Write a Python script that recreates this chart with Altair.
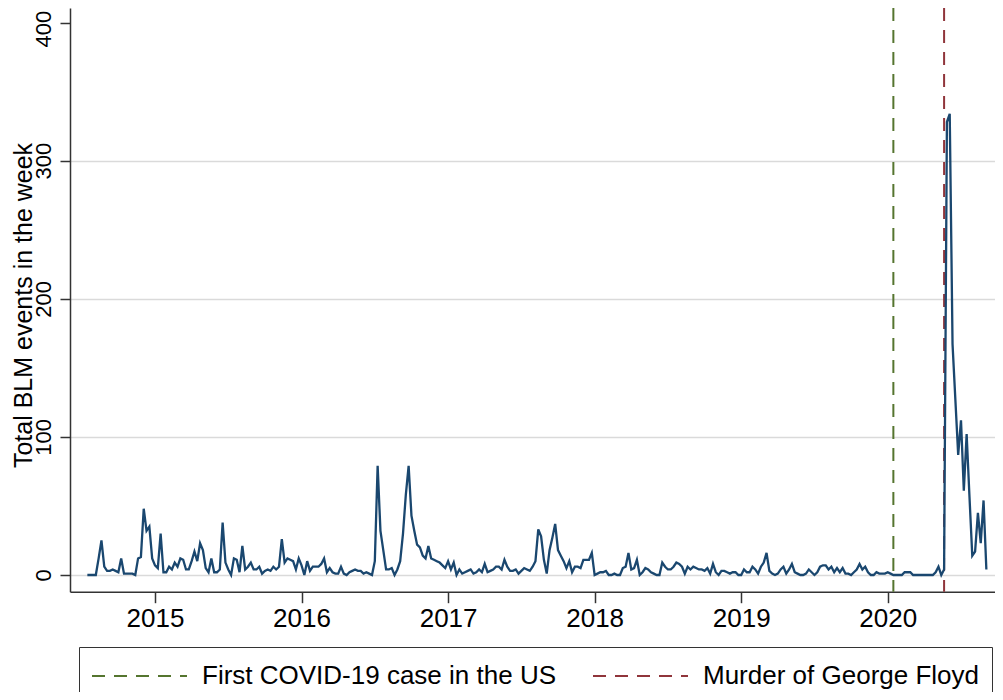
import altair as alt
import pandas as pd

# Weekly BLM event counts (Stata weekly dates: 52 weeks per year)
V2014 = [0, 0, 0, 0, 12, 25, 6, 3, 3, 4, 3, 2, 12, 1, 1, 1, 1, 0, 12, 13, 48, 32, 35, 12]  # weeks 29-52
V2015 = [7, 5, 30, 2, 2, 6, 4, 9, 6, 12, 11, 4, 4, 10, 17, 10, 23, 18, 5, 2,
         12, 2, 2, 4, 38, 9, 4, 0, 12, 11, 2, 21, 4, 6, 9, 4, 4, 6, 1, 3,
         4, 3, 6, 4, 6, 26, 9, 12, 11, 10, 4, 12]
V2016 = [7, 0, 10, 3, 6, 6, 6, 8, 12, 2, 5, 2, 1, 1, 6, 1, 0, 2, 3, 4,
         3, 3, 1, 2, 1, 0, 10, 79, 32, 18, 4, 4, 5, 0, 4, 10, 30, 58, 79, 43,
         32, 22, 20, 14, 12, 21, 12, 11, 10, 9, 7, 5]
V2017 = [10, 4, 9, 0, 4, 1, 2, 3, 4, 1, 2, 4, 2, 8, 2, 3, 4, 6, 6, 4,
         11, 6, 3, 3, 4, 1, 3, 5, 4, 3, 6, 10, 33, 28, 11, 1, 18, 27, 37, 18,
         14, 10, 5, 10, 2, 6, 6, 5, 11, 11, 11, 16]
V2018 = [0, 1, 2, 2, 3, 0, 0, 1, 0, 0, 5, 6, 16, 4, 5, 11, 0, 2, 5, 4,
         2, 1, 0, 0, 9, 6, 4, 4, 6, 9, 8, 6, 1, 6, 4, 6, 5, 4, 4, 3,
         5, 1, 8, 2, 0, 3, 3, 2, 1, 2, 2, 0]
V2019 = [0, 4, 2, 2, 6, 4, 1, 6, 9, 16, 3, 1, 0, 1, 4, 6, 1, 4, 8, 2,
         1, 0, 0, 1, 4, 2, 0, 2, 6, 7, 7, 4, 6, 2, 5, 2, 5, 1, 1, 0,
         2, 4, 8, 4, 6, 2, 0, 0, 2, 1, 1, 1]
V2020 = [2, 1, 0, 0, 0, 0, 2, 2, 2, 0, 0, 0, 0, 0, 0, 0, 0, 2, 6, 0,
         4, 328, 334, 167, 127, 87, 112, 61, 102, 57, 14, 17, 45, 23, 54, 4]  # weeks 1-36

SERIES = [(2014, 29, V2014), (2015, 1, V2015), (2016, 1, V2016), (2017, 1, V2017),
          (2018, 1, V2018), (2019, 1, V2019), (2020, 1, V2020)]

EVENTS = ["First COVID-19 case in the US", "Murder of George Floyd"]
EVENT_YEAR_WEEK = [(2020, 3), (2020, 21)]
EVENT_COLORS = ["#55752f", "#90353b"]

YEAR_TICKS = [2015, 2016, 2017, 2018, 2019, 2020]
Y_TICKS = [0, 100, 200, 300, 400]

rows = []
for year, start, vals in SERIES:
    for i, v in enumerate(vals):
        w = start + i
        rows.append({"t": year + (w - 1) / 52.0, "events": v})
df = pd.DataFrame(rows)

ev_df = pd.DataFrame({
    "event": EVENTS,
    "t": [y + (w - 1) / 52.0 for y, w in EVENT_YEAR_WEEK],
})

FONT = "Liberation Sans"
X_DOMAIN = [2014.42, 2020.732]
Y_DOMAIN = [-12.1, 410.6]

x_scale = alt.Scale(domain=X_DOMAIN, nice=False, zero=False)
x_axis = alt.Axis(
    values=YEAR_TICKS, format="d", title=None, grid=False,
    labelFont=FONT, labelFontSize=26, labelColor="black",
    labelBaseline="alphabetic", labelPadding=24, labelFlush=False,
    tickSize=11, tickColor="#333333", tickWidth=1.5,
    domainColor="#333333", domainWidth=1.5,
)
y_axis = alt.Axis(
    values=Y_TICKS, format="d",
    title="Total BLM events in the week",
    titleFont=FONT, titleFontSize=25, titleFontWeight="normal", titleColor="black",
    titleAngle=270, titleAlign="center", titleBaseline="alphabetic",
    titleX=-39, titleY=297,
    labelFont=FONT, labelFontSize=22, labelColor="black",
    labelAngle=270, labelAlign="center", labelBaseline="alphabetic",
    labelPadding=10, labelFlush=False,
    labelOffset={"condition": {"test": "datum.value >= 400", "value": 6}, "value": 0},
    tickSize=10, tickColor="#333333", tickWidth=1.5,
    domainColor="#333333", domainWidth=1.5,
    grid=True, gridWidth=1.5,
    gridColor={"condition": {"test": "datum.value >= 400", "value": "transparent"},
               "value": "#dadada"},
)

rules = alt.Chart(ev_df).mark_rule(strokeWidth=2, strokeDash=[13, 9]).encode(
    x=alt.X("t:Q", scale=x_scale, axis=x_axis),
    color=alt.Color(
        "event:N",
        scale=alt.Scale(domain=EVENTS, range=EVENT_COLORS),
        legend=alt.Legend(
            title=None, orient="none", legendX=9, legendY=639,
            direction="horizontal", columns=2,
            symbolType="stroke", symbolSize=9025, symbolStrokeWidth=2,
            symbolDash=[13, 9], clipHeight=34,
            labelFont=FONT, labelFontSize=26, labelColor="black",
            labelLimit=600, labelOffset=14, columnPadding=36,
            padding=12, strokeColor="#333333",
        ),
    ),
)

line = alt.Chart(df).mark_line(color="#1a476f", strokeWidth=2.3).encode(
    x=alt.X("t:Q", scale=x_scale, axis=x_axis),
    y=alt.Y("events:Q", scale=alt.Scale(domain=Y_DOMAIN, nice=False, zero=False), axis=y_axis),
)

chart = alt.layer(rules, line).properties(
    width=925,
    height=583.7,
    padding={"left": 62, "top": 0, "right": 0, "bottom": 100.3},
    autosize=alt.AutoSizeParams(type="none"),
    background="white",
).configure_view(stroke="transparent")

chart.save("out.html", embed_options={"renderer": "svg", "actions": False})
